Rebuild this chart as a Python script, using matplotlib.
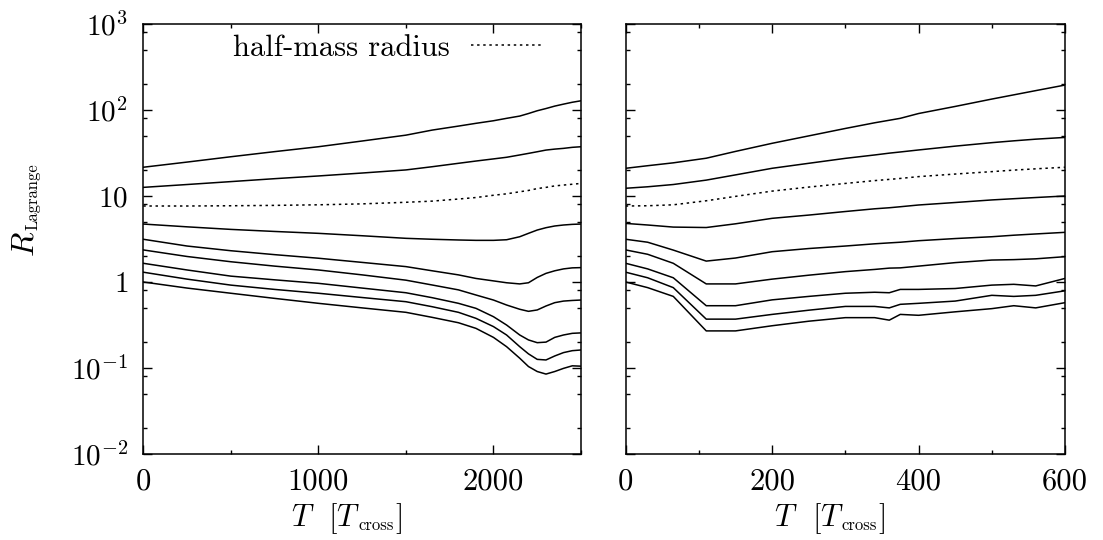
import numpy as np
import matplotlib
matplotlib.use("Agg")
import matplotlib.pyplot as plt
from matplotlib.ticker import FixedLocator, FuncFormatter
from matplotlib.transforms import IdentityTransform

plt.rcParams["font.family"] = ["cmr10", "DejaVu Serif"]
plt.rcParams["mathtext.fontset"] = "cm"
plt.rcParams["axes.unicode_minus"] = False

# ---- long run: time [T_cross] and Lagrangian radii, outermost shell first ----
t_long = [0, 250, 500, 750, 1000, 1250, 1500, 1650, 1800, 1900, 2000, 2075,
          2150, 2200, 2250, 2300, 2350, 2400, 2450, 2500]
long_r1 = [21.6, 24.8, 28.6, 32.8, 37.4, 43.6, 51.0, 58.4, 65.0, 70.0, 75.0, 80.0,
           85.0, 91.0, 98.0, 104.0, 111.0, 117.0, 123.0, 128.0]
long_r2 = [12.6, 13.6, 14.7, 15.9, 17.1, 18.5, 20.1, 21.9, 24.0, 25.5, 27.0, 28.2,
           30.0, 31.3, 32.7, 34.2, 35.1, 35.8, 36.8, 37.4]
long_half = [7.65, 7.65, 7.7, 7.78, 7.9, 8.1, 8.45, 8.72, 9.22, 9.6, 10.2, 10.6,
             11.2, 11.6, 12.2, 12.6, 13.1, 13.4, 13.7, 14.0]
long_r4 = [4.72, 4.38, 4.09, 3.87, 3.68, 3.45, 3.22, 3.14, 3.08, 3.05, 3.05, 3.1,
           3.36, 3.68, 4.02, 4.28, 4.48, 4.6, 4.68, 4.72]
long_r5 = [3.14, 2.62, 2.31, 2.08, 1.89, 1.69, 1.51, 1.35, 1.21, 1.1, 1.03, 0.98,
           0.95, 0.98, 1.13, 1.26, 1.35, 1.42, 1.46, 1.47]
long_r6 = [2.36, 1.98, 1.72, 1.53, 1.38, 1.21, 1.05, 0.923, 0.81, 0.706, 0.617, 0.54,
           0.482, 0.456, 0.473, 0.526, 0.575, 0.6, 0.61, 0.617]
long_r7 = [1.65, 1.38, 1.17, 1.06, 0.965, 0.85, 0.75, 0.657, 0.565, 0.494, 0.395, 0.316,
           0.242, 0.212, 0.197, 0.2, 0.227, 0.242, 0.253, 0.256]
long_r8 = [1.30, 1.08, 0.92, 0.82, 0.74, 0.66, 0.59, 0.516, 0.444, 0.378, 0.303, 0.242,
           0.177, 0.146, 0.126, 0.124, 0.138, 0.151, 0.159, 0.162]
long_r9 = [1.0, 0.85, 0.74, 0.645, 0.565, 0.5, 0.444, 0.388, 0.336, 0.289, 0.227, 0.177,
           0.13, 0.104, 0.091, 0.085, 0.091, 0.099, 0.106, 0.105]

# ---- short run ----
t_short = [0, 30, 65, 110, 150, 200, 250, 300, 340, 360, 375, 400, 450, 500, 530, 560, 600]
short_r1 = [21.0, 22.5, 24.3, 27.5, 33.0, 41.0, 50.0, 61.0, 71.0, 76.0, 80.0, 91.0, 110.0, 134.0, 150.0, 168.0, 195.0]
short_r2 = [12.3, 12.8, 13.6, 15.3, 17.6, 21.0, 24.0, 27.4, 30.0, 31.5, 32.5, 34.3, 38.0, 41.7, 43.8, 45.8, 48.0]
short_half = [7.65, 7.7, 7.9, 8.8, 9.9, 11.4, 12.7, 14.0, 15.1, 15.6, 16.0, 16.8, 18.0, 19.2, 20.0, 20.7, 21.6]
short_r4 = [4.8, 4.6, 4.35, 4.3, 4.75, 5.5, 6.0, 6.6, 7.1, 7.3, 7.5, 7.86, 8.4, 9.0, 9.3, 9.6, 10.0]
short_r5 = [3.14, 2.9, 2.35, 1.75, 1.9, 2.25, 2.45, 2.62, 2.78, 2.85, 2.9, 3.02, 3.2, 3.36, 3.5, 3.62, 3.78]
short_r6 = [2.36, 2.1, 1.65, 0.95, 0.95, 1.08, 1.2, 1.32, 1.4, 1.45, 1.46, 1.53, 1.68, 1.8, 1.82, 1.86, 1.97]
short_r7 = [1.65, 1.42, 1.12, 0.53, 0.53, 0.62, 0.68, 0.74, 0.76, 0.75, 0.82, 0.82, 0.84, 0.92, 0.94, 0.9, 1.1]
short_r8 = [1.30, 1.12, 0.86, 0.37, 0.37, 0.42, 0.47, 0.52, 0.52, 0.5, 0.55, 0.565, 0.6, 0.7, 0.68, 0.7, 0.79]
short_r9 = [1.0, 0.86, 0.68, 0.27, 0.27, 0.31, 0.35, 0.385, 0.385, 0.36, 0.42, 0.41, 0.45, 0.49, 0.53, 0.5, 0.575]

y_ticks = [1e-2, 1e-1, 1, 10, 1e2, 1e3]
y_tick_labels = [r"$10^{-2}$", r"$10^{-1}$", r"$1$", r"$10$", r"$10^{2}$", r"$10^{3}$"]

FS = 22        # main text size
FS_YT = 21     # y tick labels
FS_SUB = 12    # subscript size in the axis labels
LW = 1.1
DOT = (0, (1.6, 2.4))

W, H = 1103, 540
fig = plt.figure(figsize=(W / 100, H / 100), dpi=100)
ax1 = fig.add_axes([143.3 / W, 86 / H, 437.7 / W, 430 / H])
ax2 = fig.add_axes([625.7 / W, 86 / H, 439.3 / W, 430 / H])


def style(ax, xmax, xmajor, xminor, show_ylabels):
    ax.set_yscale("log")
    ax.set_ylim(1e-2, 1e3)
    ax.set_xlim(0, xmax)
    ax.xaxis.set_major_locator(FixedLocator(np.arange(0, xmax + 1, xmajor)))
    ax.xaxis.set_minor_locator(FixedLocator(np.arange(0, xmax + 1, xminor)))
    ax.yaxis.set_major_locator(FixedLocator(y_ticks))
    minors = [m * 10.0 ** e for e in range(-2, 3) for m in (2, 5, 8)]
    ax.yaxis.set_minor_locator(FixedLocator(minors))
    ax.xaxis.set_major_formatter(FuncFormatter(lambda v, p: "%d" % v))
    lab = dict(zip(y_ticks, y_tick_labels))
    if show_ylabels:
        ax.yaxis.set_major_formatter(FuncFormatter(lambda v, p: lab.get(v, "")))
    else:
        ax.yaxis.set_major_formatter(FuncFormatter(lambda v, p: ""))
    ax.yaxis.set_minor_formatter(FuncFormatter(lambda v, p: ""))
    ax.tick_params(which="both", direction="in", top=True, right=True,
                   width=1.0, colors="black")
    ax.tick_params(axis="x", labelsize=FS)
    ax.tick_params(axis="y", labelsize=FS_YT)
    ax.tick_params(which="major", length=6.5)
    ax.tick_params(which="minor", length=2.8)
    ax.tick_params(axis="x", which="major", pad=10)
    ax.tick_params(axis="y", which="major", pad=11)
    for s in ax.spines.values():
        s.set_linewidth(1.1)


style(ax1, 2500, 1000, 500, True)
style(ax2, 600, 200, 100, False)

for r in (long_r1, long_r2):
    ax1.plot(t_long, r, color="black", lw=LW)
ax1.plot(t_long, long_half, color="black", lw=LW, ls=DOT, label="half-mass radius")
for r in (long_r4, long_r5, long_r6, long_r7, long_r8, long_r9):
    ax1.plot(t_long, r, color="black", lw=LW)

for r in (short_r1, short_r2):
    ax2.plot(t_short, r, color="black", lw=LW)
ax2.plot(t_short, short_half, color="black", lw=LW, ls=DOT)
for r in (short_r4, short_r5, short_r6, short_r7, short_r8, short_r9):
    ax2.plot(t_short, r, color="black", lw=LW)

ax1.legend(loc="upper right", bbox_to_anchor=(0.913, 0.976), frameon=False,
           markerfirst=False, fontsize=FS, handlelength=2.35, handletextpad=0.69,
           borderpad=0.0, borderaxespad=0.0)

renderer = fig.canvas.get_renderer()


def text_width(s, size):
    probe = fig.text(0, 0, s, fontsize=size, transform=IdentityTransform())
    w = probe.get_window_extent(renderer).width
    probe.remove()
    return w


def place_parts(parts, x0, y0, vertical=False):
    """Lay out text pieces one after another (pixel coordinates, origin bottom left).
    parts: (string, size, baseline drop in px, gap before in px)."""
    pos = 0.0
    for s, size, drop, gap in parts:
        pos += gap
        if vertical:
            fig.text(x0 + drop, y0 + pos, s, fontsize=size, ha="left", va="baseline",
                     rotation=90, rotation_mode="anchor", transform=IdentityTransform())
        else:
            fig.text(x0 + pos, y0 - drop, s, fontsize=size, ha="left", va="baseline",
                     transform=IdentityTransform())
        pos += text_width(s, size)
    return pos


xlabel_parts = [(r"$T$", FS, 0, 0), (r"$[T$", FS, 0, 14),
                ("cross", FS_SUB, 4.5, -2.5), (r"$]$", FS, 0, 1)]

for ax in (ax1, ax2):
    bb = ax.get_position()
    cx = (bb.x0 + bb.x1) / 2 * W
    total = sum(text_width(s, sz) + g for s, sz, _, g in xlabel_parts)
    place_parts(xlabel_parts, cx - 16 - total / 2, H - 526)

# vertical axis title
place_parts([(r"$R$", FS + 1, 0, 0), ("Lagrange", FS_SUB, 4, 1)], 33, H - 256.7, vertical=True)

fig.savefig("out.png", dpi=100)
